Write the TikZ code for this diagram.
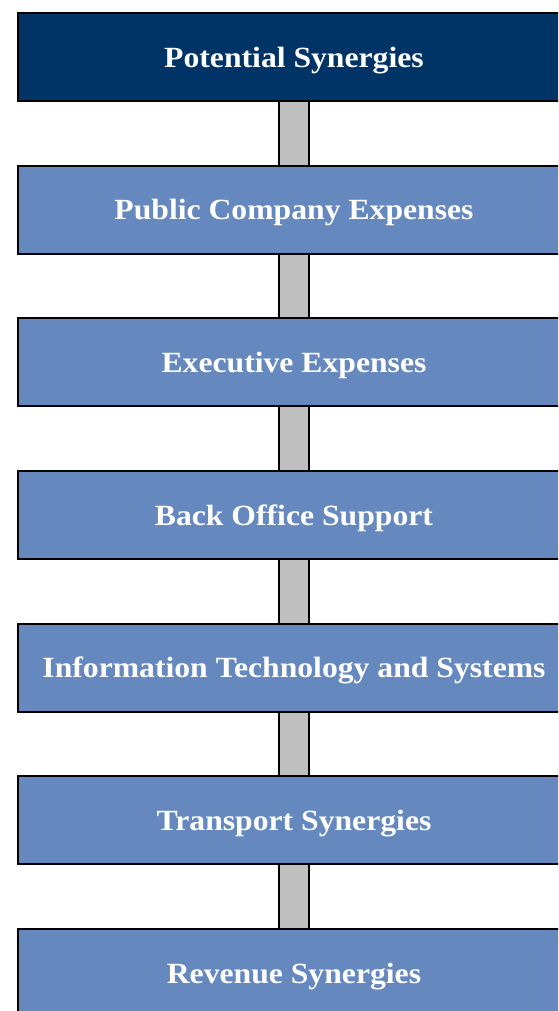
\documentclass[tikz,border=0pt]{standalone}
\usepackage{fontspec}
\setmainfont{Liberation Serif}
\newfontfamily\boxfont[FakeStretch=1.08]{Liberation Serif}
\usetikzlibrary{positioning,backgrounds}
\definecolor{navy}{RGB}{0,51,102}
\definecolor{steel}{RGB}{101,137,191}
\definecolor{bargray}{RGB}{191,191,191}
\begin{document}
\begin{tikzpicture}[x=0.75pt,y=-0.75pt,
		box/.style={draw=black,line width=1.5pt,fill=steel,text=white,
			font=\boxfont\fontsize{22}{26}\selectfont\bfseries,
			text height=17pt,text depth=2pt,
			minimum width=414pt,minimum height=66pt,inner sep=0pt,outer sep=0pt},
		topbox/.style={box,fill=navy},
		link/.style={draw=black,line width=1.5pt,double=bargray,double distance=21pt},
		node distance=48.5pt]
	\useasboundingbox (0,0) rectangle (558,1011);
	\clip (0,0) rectangle (558,1011);
	\node [topbox] (pot) at (294,57) {Potential Synergies};
	\node [box,below=of pot] (pub) {Public Company Expenses};
	\node [box,below=of pub] (exe) {Executive Expenses};
	\node [box,below=of exe] (back) {Back Office Support};
	\node [box,below=of back] (info) {Information Technology and Systems};
	\node [box,below=of info] (trans) {Transport Synergies};
	\node [box,below=of trans] (rev) {Revenue Synergies};
	\begin{pgfonlayer}{background}
		\foreach \a/\b in {pot/pub,pub/exe,exe/back,back/info,info/trans,trans/rev}
			\draw [link] (\a) -- (\b);
	\end{pgfonlayer}
\end{tikzpicture}
\end{document}
